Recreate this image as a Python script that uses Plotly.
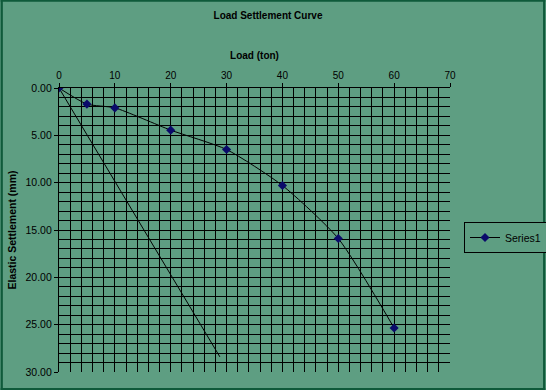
import plotly.graph_objects as go

load = [0, 5, 10, 20, 30, 40, 50, 60]
settlement = [0, 1.7, 2.1, 4.45, 6.5, 10.3, 15.9, 25.35]
ref_load = [0, 28.8]
ref_settlement = [0, 28.4]

x_ticks = [0, 10, 20, 30, 40, 50, 60, 70]
y_ticks = [0, 5, 10, 15, 20, 25, 30]

BG = "#5e9e82"
BORDER = "#0f5a3a"
FONT = "Liberation Sans, Arial, sans-serif"

W, H = 546, 390
ml, mr, mt, mb = 58.5, 95.5, 88.3, 18.3
pw, ph = W - ml - mr, H - mt - mb

fig = go.Figure()
fig.add_trace(go.Scatter(x=ref_load, y=ref_settlement, mode="lines",
                         line=dict(color="black", width=1), showlegend=False,
                         hoverinfo="skip"))
fig.add_trace(go.Scatter(x=load, y=settlement, mode="lines+markers", name="Series1",
                         line=dict(color="black", width=1, shape="spline", smoothing=0.6),
                         marker=dict(symbol="diamond", size=7, color="#0a0a6a")))


def px_x(p):
    return (p - ml) / pw


def px_y(p):
    return (H - mb - p) / ph


fig.update_layout(
    width=W, height=H,
    margin=dict(l=ml, r=mr, t=mt, b=mb, pad=0, autoexpand=False),
    paper_bgcolor=BG, plot_bgcolor=BG,
    font=dict(family=FONT, size=10, color="black"),
    title=dict(text="<b>Load Settlement Curve</b>", x=268 / W, xanchor="center",
               y=1 - 15 / H, yanchor="middle", font=dict(size=10, family=FONT)),
    xaxis=dict(side="top", range=[0, 70], tickvals=x_ticks,
               ticktext=[str(v) for v in x_ticks],
               showgrid=True, gridcolor="black", gridwidth=1.3,
               minor=dict(dtick=2, showgrid=True, gridcolor="black", gridwidth=1.3, ticks=""),
               ticks="outside", ticklen=4, tickcolor="black",
               showline=True, linecolor="black", linewidth=1.3, zeroline=False,
               tickfont=dict(size=10),
               title=dict(text="<b>Load (ton)</b>", font=dict(size=10), standoff=8)),
    yaxis=dict(autorange=False, range=[30, 0], tickvals=y_ticks,
               ticktext=[f"{v:.2f}" for v in y_ticks],
               showgrid=True, gridcolor="black", gridwidth=1.3,
               minor=dict(dtick=1, showgrid=True, gridcolor="black", gridwidth=1.3, ticks=""),
               ticks="outside", ticklen=4, tickcolor="black",
               showline=True, linecolor="black", linewidth=1.3, zeroline=False,
               tickfont=dict(size=10.5),
               title=dict(text="<b>Elastic Settlement (mm)</b>", font=dict(size=10.5), standoff=6)),
    legend=dict(xref="container", yref="container", x=464 / W, y=1 - 222 / H,
                xanchor="left", yanchor="top",
                bgcolor=BG, bordercolor="black", borderwidth=1,
                font=dict(size=10.5, family=FONT), itemwidth=30),
    shapes=[
        dict(type="rect", xref="paper", yref="paper",
             x0=px_x(0), x1=px_x(2.2), y0=px_y(H), y1=px_y(0),
             fillcolor=BORDER, line=dict(width=0), layer="below"),
        dict(type="rect", xref="paper", yref="paper",
             x0=px_x(W - 2.2), x1=px_x(W), y0=px_y(H), y1=px_y(0),
             fillcolor=BORDER, line=dict(width=0), layer="below"),
        dict(type="rect", xref="paper", yref="paper",
             x0=px_x(0), x1=px_x(W), y0=px_y(2.2), y1=px_y(0),
             fillcolor=BORDER, line=dict(width=0), layer="below"),
        dict(type="rect", xref="paper", yref="paper",
             x0=px_x(0), x1=px_x(W), y0=px_y(H), y1=px_y(H - 2.4),
             fillcolor=BORDER, line=dict(width=0), layer="below"),
    ],
)

fig.write_html("out.html", config={"displayModeBar": False},
               post_script="document.body.style.margin='0';document.body.style.overflow='hidden';")
